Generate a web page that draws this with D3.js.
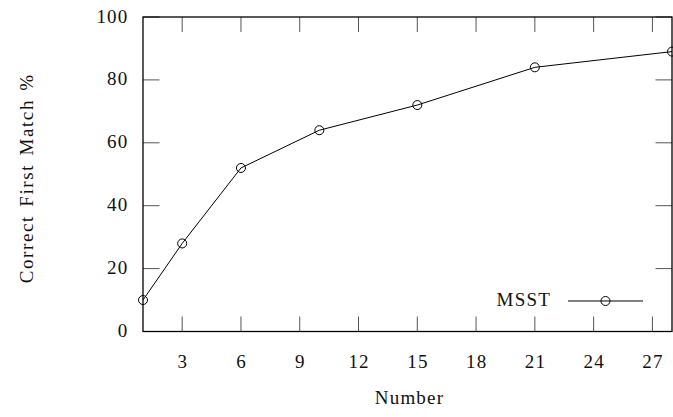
<!DOCTYPE html>
<html>
<head>
<meta charset="utf-8">
<script src="https://cdn.jsdelivr.net/npm/d3@7"></script>
<style>
  body { margin: 0; background: #fff; }
  text { font-family: "Liberation Serif", serif; fill: #111; letter-spacing: 1.2px; }
</style>
</head>
<body>
<svg id="chart" width="673" height="417"></svg>
<script>
// data
const numbers = [1, 3, 6, 10, 15, 21, 28];
const matchPct = [10, 28, 52, 64, 72, 84, 89];
const xTicks = [3, 6, 9, 12, 15, 18, 21, 24, 27];
const yTicks = [0, 20, 40, 60, 80, 100];
const seriesName = "MSST";

const margin = { top: 17, right: 1, bottom: 85.5, left: 143 };
const fullWidth = 673, fullHeight = 417;
const width = fullWidth - margin.left - margin.right;
const height = fullHeight - margin.top - margin.bottom;

const svg = d3.select("#chart")
    .append("g")
    .attr("transform", `translate(${margin.left},${margin.top})`);

const x = d3.scaleLinear().domain([1, 28]).range([0, width]);
const y = d3.scaleLinear().domain([0, 100]).range([height, 0]);

const tickLen = 15;

// ticks on all four sides, pointing inward
const tickColor = "#555";
svg.append("g").selectAll("line").data(xTicks).enter().append("line")
    .attr("x1", d => x(d)).attr("x2", d => x(d))
    .attr("y1", height).attr("y2", height - tickLen)
    .attr("stroke", tickColor);
svg.append("g").selectAll("line").data(xTicks).enter().append("line")
    .attr("x1", d => x(d)).attr("x2", d => x(d))
    .attr("y1", 0).attr("y2", tickLen)
    .attr("stroke", tickColor);
svg.append("g").selectAll("line").data(yTicks).enter().append("line")
    .attr("x1", 0).attr("x2", tickLen + 1.5)
    .attr("y1", d => y(d)).attr("y2", d => y(d))
    .attr("stroke", tickColor);
svg.append("g").selectAll("line").data(yTicks).enter().append("line")
    .attr("x1", width).attr("x2", width - tickLen - 1.5)
    .attr("y1", d => y(d)).attr("y2", d => y(d))
    .attr("stroke", tickColor);

// frame
svg.append("rect")
    .attr("x", 0).attr("y", 0)
    .attr("width", width).attr("height", height)
    .attr("fill", "none")
    .attr("stroke", "#000")
    .attr("stroke-width", 1.3);

// tick labels
svg.append("g").selectAll("text").data(xTicks).enter().append("text")
    .attr("x", d => x(d) + 0.6)
    .attr("y", height + 36)
    .attr("text-anchor", "middle")
    .style("font-size", "19px")
    .text(d => d);
svg.append("g").selectAll("text").data(yTicks).enter().append("text")
    .attr("x", -14.5)
    .attr("y", d => y(d) + 5.5)
    .attr("text-anchor", "end")
    .style("font-size", "19px")
    .text(d => d);

// axis titles
svg.append("text")
    .attr("x", width / 2 + 2)
    .attr("y", height + 72)
    .attr("text-anchor", "middle")
    .style("font-size", "19px")
    .text("Number");
svg.append("text")
    .attr("transform", `translate(${-110},${height / 2 + 4}) rotate(-90)`)
    .attr("text-anchor", "middle")
    .style("font-size", "19px")
    .style("letter-spacing", "1.6px")
    .style("word-spacing", "2px")
    .text("Correct First Match %");

// series
const points = numbers.map((n, i) => ({ n, v: matchPct[i] }));
const line = d3.line().x(d => x(d.n)).y(d => y(d.v));

svg.append("path")
    .datum(points)
    .attr("d", line)
    .attr("fill", "none")
    .attr("stroke", "#000")
    .attr("stroke-width", 1);

svg.append("g").selectAll("circle").data(points).enter().append("circle")
    .attr("cx", d => x(d.n))
    .attr("cy", d => y(d.v))
    .attr("r", 4.5)
    .attr("fill", "none")
    .attr("stroke", "#000")
    .attr("stroke-width", 1);

// legend
const legend = svg.append("g")
    .attr("transform", `translate(${width - 104},${y(9.7)})`);
legend.append("text")
    .attr("x", -17)
    .attr("y", 5)
    .attr("text-anchor", "end")
    .style("font-size", "19px")
    .text(seriesName);
legend.append("line")
    .attr("x1", 0).attr("x2", 75)
    .attr("y1", 0).attr("y2", 0)
    .attr("stroke", "#000");
legend.append("circle")
    .attr("cx", 37.5).attr("cy", 0).attr("r", 4.5)
    .attr("fill", "none").attr("stroke", "#000");
</script>
</body>
</html>
